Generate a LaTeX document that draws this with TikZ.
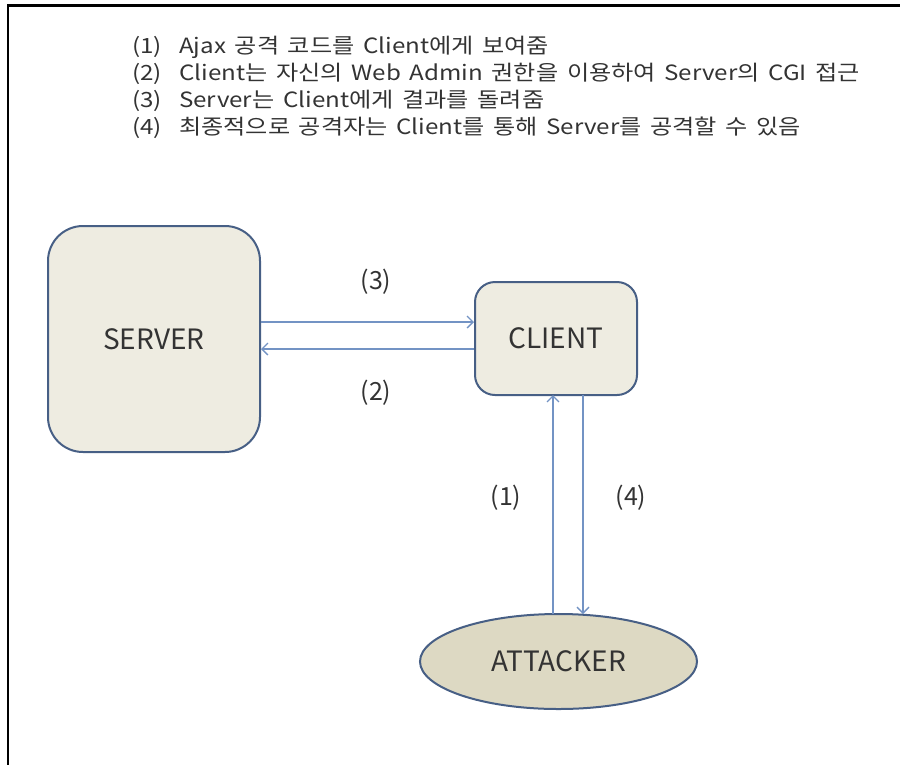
\documentclass[tikz,border=0pt]{standalone}
\usepackage{fontspec}
\setmainfont{Noto Sans CJK KR}
\newfontfamily\topfont[FakeStretch=1.15,WordSpace=1.6]{Noto Sans CJK KR}
\usetikzlibrary{arrows.meta,shapes.geometric}
\definecolor{boxfill}{HTML}{EEECE1}
\definecolor{ellfill}{HTML}{DDD9C3}
\definecolor{boxline}{HTML}{475F85}
\definecolor{arrowc}{HTML}{7393C4}
\definecolor{txt}{HTML}{333333}
\begin{document}
\begin{tikzpicture}[x=1pt,y=-1pt,
  box/.style={draw=boxline,line width=2pt,fill=boxfill,text=txt,font=\fontsize{28}{32}\selectfont},
  conn/.style={draw=arrowc,line width=1.3pt,-{Straight Barb[length=6pt,width=12pt]}},
  lbl/.style={text=txt,font=\fontsize{25}{28}\selectfont},
  line/.style={anchor=west,text=txt,font=\topfont\fontsize{21}{23}\selectfont,inner sep=0pt}]
\useasboundingbox (0,0) rectangle (900,764);
\draw[line width=2.2pt,line cap=rect] (8,764) -- (8,5.5) -- (900,5.5);
\node[line] (t1) at (132,47) {(1)\ \ Ajax 공격 코드를 Client에게 보여줌};
\node[line] (t2) at (132,74) {(2)\ \ Client는 자신의 Web Admin 권한을 이용하여 Server의 CGI 접근};
\node[line] (t3) at (132,101) {(3)\ \ Server는 Client에게 결과를 돌려줌};
\node[line] (t4) at (132,128) {(4)\ \ 최종적으로 공격자는 Client를 통해 Server를 공격할 수 있음};
\node[box,rounded corners=35pt,minimum width=212pt,minimum height=226pt] (server) at (154,339) {SERVER};
\node[box,rounded corners=20pt,minimum width=162pt,minimum height=113pt] (client) at (556,338.5) {CLIENT};
\node[box,ellipse,fill=ellfill,minimum width=277pt,minimum height=95pt,inner sep=0pt] (att) at (558.5,661.5) {ATTACKER};
\coordinate (s3) at (server.east |- 0,322);
\coordinate (c3) at (client.west |- 0,322);
\coordinate (s2) at (server.east |- 0,349);
\coordinate (c2) at (client.west |- 0,349);
\draw[conn] (s3) -- (c3);
\draw[conn] (c2) -- (s2);
\coordinate (c1) at (553,395);
\coordinate (a1) at (553,614);
\coordinate (c4) at (583,395);
\coordinate (a4) at (583,614);
\draw[conn] (a1) -- (c1);
\draw[conn] (c4) -- (a4);
\node[lbl] (l3) at (376,282) {(3)};
\node[lbl] (l2) at (376,393) {(2)};
\node[lbl] (l1) at (506,498) {(1)};
\node[lbl] (l4) at (631,498) {(4)};
\end{tikzpicture}
\end{document}
